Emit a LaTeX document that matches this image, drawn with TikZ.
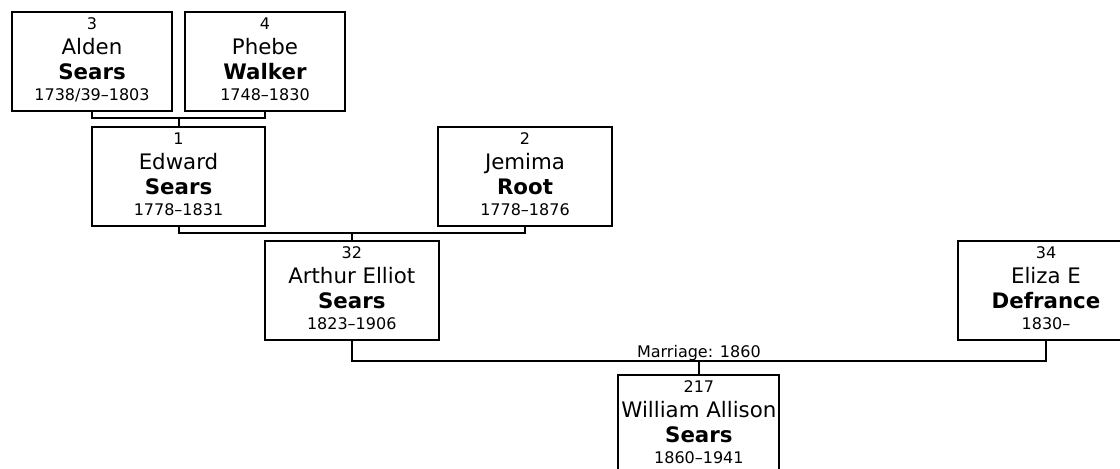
\documentclass[tikz,border=0pt]{standalone}
\usepackage{fontspec}
\setmainfont{DejaVu Sans}
\newcommand{\smalltxt}{\fontsize{12pt}{14pt}\selectfont}
\newcommand{\bigtxt}{\fontsize{16pt}{18.75pt}\selectfont}
\newcommand{\persontext}[4]{\rule{0pt}{13.5pt}{\smalltxt #1}\\{\bigtxt #2}\\{\bigtxt\bfseries #3}\\[-3.4pt]\rule[-8.25pt]{0pt}{0pt}{\smalltxt #4}}

\begin{document}
\begin{tikzpicture}[
      x=0.75pt, y=-0.75pt,
      person/.style={
         rectangle,
         draw=black,
         line width=1.5pt,
         inner xsep=0pt,
         inner ysep=0pt,
         align=center,
         font=\bigtxt,
         minimum width=#1},
      person/.default=120pt,
      myline/.style={line width=1.5pt},
      mylabel/.style={above, inner sep=0pt, font=\smalltxt}
      ]
      \useasboundingbox (0,0) rectangle (1120,468);
      \node[person] (3) at (92,61.5) {\persontext{3}{Alden}{Sears}{1738/39–1803}};
      \node[person] (4) at (265,61.5) {\persontext{4}{Phebe}{Walker}{1748–1830}};
      \node[person=129.75pt] (1) at (178.5,176.5) {\persontext{1}{Edward}{Sears}{1778–1831}};
      \node[person=130.5pt] (2) at (525,176.5) {\persontext{2}{Jemima}{Root}{1778–1876}};
      \node[person=130.5pt] (32) at (351.75,290.5) {\persontext{32}{Arthur Elliot}{Sears}{1823–1906}};
      \node[person=132pt] (34) at (1046,290.5) {\persontext{34}{Eliza E}{Defrance}{1830–}};
      \node[person=120.75pt] (217) at (698.875,424.5) {\persontext{217}{William Allison}{Sears}{1860–1941}};

    \foreach \f/\m/\c/\d in {% father/mother/child/drop
      3/4/1/6,
      1/2/32/6,
      32/34/217/20}
      {
       \draw [myline] (\f.south) -- ++(0,\d) -| coordinate[pos=0.25] (m\c) (\m.south);
       \draw [myline] (m\c) -- (\c.north);
      }

    \node[mylabel] (marriage) at (m217) {Marriage: 1860};

    \end{tikzpicture}
\end{document}
